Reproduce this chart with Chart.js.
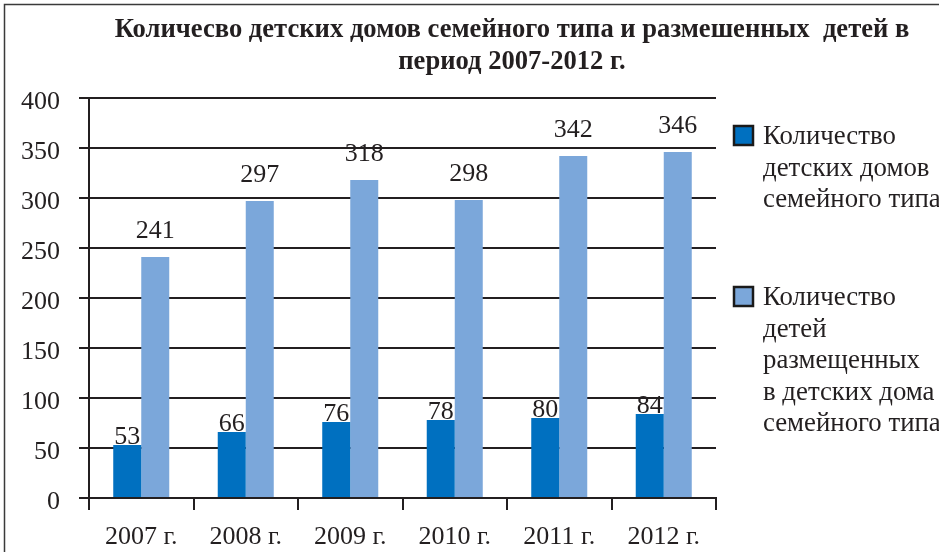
<!DOCTYPE html>
<html lang="ru">
<head>
<meta charset="utf-8">
<title>Детские дома семейного типа</title>
<script src="https://cdn.jsdelivr.net/npm/chart.js@4.4.0/dist/chart.umd.min.js"></script>
<style>
  html, body { margin: 0; padding: 0; background: #fff; overflow: hidden; }
  #wrap { width: 939px; height: 555px; }
</style>
</head>
<body>
<div id="wrap"><canvas id="homesChart" width="939" height="555"></canvas></div>
<script>
// Данные по годам
const years = ["2007 г.", "2008 г.", "2009 г.", "2010 г.", "2011 г.", "2012 г."];
const homesCount = [53, 66, 76, 78, 80, 84];
const childrenCount = [241, 297, 318, 298, 342, 346];
const yTicks = [0, 50, 100, 150, 200, 250, 300, 350, 400];

const titleLines = [
  "Количесво детских домов семейного типа и размешенных  детей в",
  "период 2007-2012 г."
];
const homesLegend = ["Количество", "детских домов", "семейного типа"];
const childrenLegend = ["Количество", "детей", "размещенных", "в детских дома", "семейного типа"];

const ink = "#231f20";
const serif = "'Liberation Serif', 'Times New Roman', serif";

// Рамка и заголовок
const framePlugin = {
  id: "frame",
  beforeDraw(chart) {
    const c = chart.ctx;
    c.save();
    c.fillStyle = "#fff";
    c.fillRect(0, 0, chart.width, chart.height);
    c.strokeStyle = "#3a3a3a";
    c.lineWidth = 1.5;
    c.beginPath();
    c.moveTo(4.5, 552);
    c.lineTo(4.5, 4.5);
    c.lineTo(chart.width, 4.5);
    c.stroke();
    c.restore();
  },
  afterDraw(chart) {
    const c = chart.ctx;
    c.save();
    c.fillStyle = ink;
    c.font = "bold 26.6px " + serif;
    c.textAlign = "center";
    c.textBaseline = "alphabetic";
    titleLines.forEach((line, i) => c.fillText(line, 512, 37 + i * 32));
    c.restore();
  }
};

// Подписи значений над столбцами
const valueLabels = {
  id: "valueLabels",
  afterDatasetsDraw(chart) {
    const c = chart.ctx;
    c.save();
    c.fillStyle = ink;
    c.font = "26px " + serif;
    c.textAlign = "center";
    c.textBaseline = "alphabetic";
    chart.data.datasets.forEach((ds, di) => {
      const gap = di === 0 ? 1 : 19;
      chart.getDatasetMeta(di).data.forEach((bar, i) => {
        c.fillText(String(ds.data[i]), bar.x, bar.y - gap);
      });
    });
    c.restore();
  }
};

// Легенда справа, многострочная
const sideLegend = {
  id: "sideLegend",
  afterDraw(chart) {
    const c = chart.ctx;
    const items = [
      { lines: homesLegend, color: chart.data.datasets[0].backgroundColor, top: 126 },
      { lines: childrenLegend, color: chart.data.datasets[1].backgroundColor, top: 287 }
    ];
    c.save();
    c.font = "26.8px " + serif;
    c.textBaseline = "alphabetic";
    c.textAlign = "left";
    items.forEach(item => {
      c.fillStyle = item.color;
      c.fillRect(734, item.top, 19, 19);
      c.strokeStyle = "#1a1a1a";
      c.lineWidth = 2.5;
      c.strokeRect(734, item.top, 19, 19);
      c.fillStyle = ink;
      item.lines.forEach((line, i) => c.fillText(line, 763, item.top + 18 + i * 31.5));
    });
    c.restore();
  }
};

new Chart(document.getElementById("homesChart"), {
  type: "bar",
  data: {
    labels: years,
    datasets: [
      {
        label: homesLegend.join(" "),
        data: homesCount,
        backgroundColor: "#0070c0",
        borderWidth: 0,
        categoryPercentage: 0.536,
        barPercentage: 1.0
      },
      {
        label: childrenLegend.join(" "),
        data: childrenCount,
        backgroundColor: "#7ba7da",
        borderWidth: 0,
        categoryPercentage: 0.536,
        barPercentage: 1.0
      }
    ]
  },
  options: {
    responsive: false,
    animation: false,
    layout: { padding: { top: 98, right: 223, bottom: 0, left: 0 } },
    plugins: {
      legend: { display: false },
      title: { display: false },
      tooltip: { enabled: false }
    },
    scales: {
      x: {
        grid: {
          offset: true,
          drawOnChartArea: false,
          drawTicks: true,
          tickLength: 12,
          color: ink,
          lineWidth: 2
        },
        border: { display: true, color: ink, width: 2 },
        ticks: { color: ink, font: { family: serif, size: 26 }, padding: 12 },
        afterFit(scale) { scale.height = 57; }
      },
      y: {
        min: 0,
        max: 400,
        afterBuildTicks(scale) { scale.ticks = yTicks.map(v => ({ value: v })); },
        grid: { color: ink, lineWidth: 2, tickLength: 10 },
        border: { display: true, color: ink, width: 2 },
        ticks: { color: ink, font: { family: serif, size: 26 }, padding: 19, labelOffset: 4 },
        afterFit(scale) { scale.width = 89; }
      }
    }
  },
  plugins: [framePlugin, valueLabels, sideLegend]
});
</script>
</body>
</html>
